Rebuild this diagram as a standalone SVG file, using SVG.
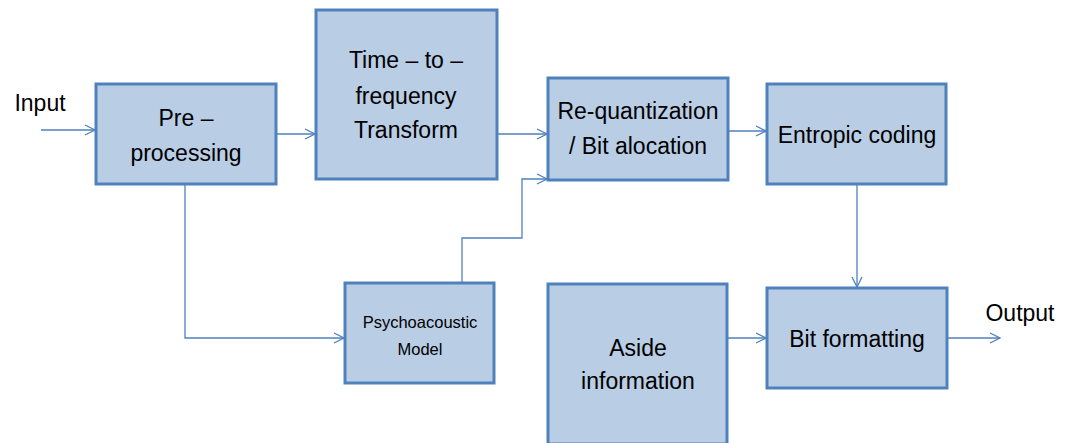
<svg xmlns="http://www.w3.org/2000/svg" width="1067" height="443" viewBox="0 0 1067 443">
<style>
.box{fill:#b9cde5;stroke:#4f81bd;stroke-width:3}
.t{font-family:"Liberation Sans",Arial,sans-serif;font-size:23px;fill:#000;text-anchor:middle}
.s{font-size:16.5px}
.c{fill:none;stroke:#4f81bd;stroke-width:1.3}
</style>
<defs>
<marker id="a" viewBox="0 0 12 12" refX="11" refY="6" markerWidth="12" markerHeight="12" markerUnits="userSpaceOnUse" orient="auto">
<path d="M1,1 L11,6 L1,11" fill="none" stroke="#4f81bd" stroke-width="1.3"/>
</marker>
</defs>
<g id="connectors">
<path class="c" d="M41,130 H95" marker-end="url(#a)"/>
<path class="c" d="M277,134 H315" marker-end="url(#a)"/>
<path class="c" d="M498,134 H547" marker-end="url(#a)"/>
<path class="c" d="M185,185 V338 H344" marker-end="url(#a)"/>
<path class="c" d="M462,282 V238 H522 V179 H547" marker-end="url(#a)"/>
<path class="c" d="M729,131 H766" marker-end="url(#a)"/>
<path class="c" d="M857,185 V287" marker-end="url(#a)"/>
<path class="c" d="M728,338 H766" marker-end="url(#a)"/>
<path class="c" d="M948,338 H1000" marker-end="url(#a)"/>
</g>
<g id="input"><text class="t" x="40" y="111">Input</text></g>
<g id="output"><text class="t" x="1020" y="321">Output</text></g>
<g id="preprocessing">
<rect class="box" x="96" y="84" width="180" height="100"/>
<text class="t" x="186" y="126">Pre –</text>
<text class="t" x="186" y="161">processing</text>
</g>
<g id="timefreq">
<rect class="box" x="316" y="10" width="181" height="169"/>
<text class="t" x="406" y="68">Time – to –</text>
<text class="t" x="406" y="104">frequency</text>
<text class="t" x="406" y="138">Transform</text>
</g>
<g id="requant">
<rect class="box" x="548" y="78" width="180" height="102"/>
<text class="t" x="638" y="119">Re-quantization</text>
<text class="t" x="638" y="154">/ Bit alocation</text>
</g>
<g id="entropic">
<rect class="box" x="767" y="84" width="179" height="100"/>
<text class="t" x="857" y="143">Entropic coding</text>
</g>
<g id="psycho">
<rect class="box" x="345" y="283" width="149" height="100"/>
<text class="t s" x="420" y="328">Psychoacoustic</text>
<text class="t s" x="420" y="355">Model</text>
</g>
<g id="aside">
<rect class="box" x="548" y="284" width="179" height="160"/>
<text class="t" x="638" y="356">Aside</text>
<text class="t" x="638" y="389">information</text>
</g>
<g id="bitformat">
<rect class="box" x="767" y="288" width="180" height="100"/>
<text class="t" x="857" y="347">Bit formatting</text>
</g>
</svg>
